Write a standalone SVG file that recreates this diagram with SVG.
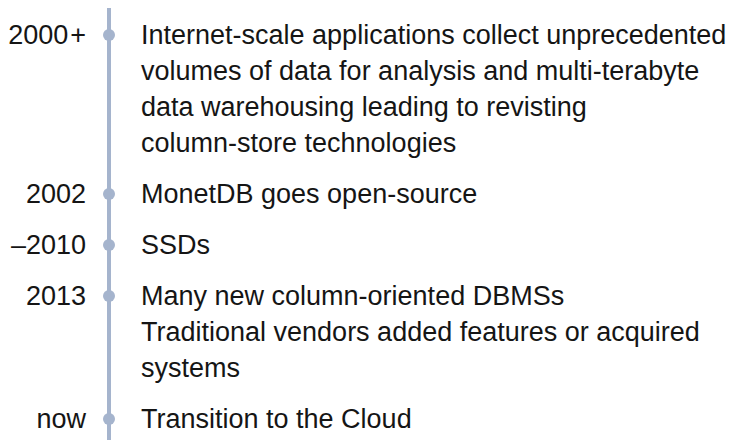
<svg xmlns="http://www.w3.org/2000/svg" width="730" height="440" viewBox="0 0 730 440">
  <style>
    .t { font-family: "Liberation Sans", Arial, sans-serif; font-size: 27px; fill: #151515; }
    .lab { font-family: "Liberation Sans", Arial, sans-serif; font-size: 27px; fill: #151515; text-anchor: end; }
    .dot { fill: #a5b4cd; }
  </style>
  <rect width="730" height="440" fill="#ffffff"/>
  <g id="connectors">
    <line x1="109" y1="8" x2="109" y2="440" stroke="#a5b4cd" stroke-width="4"/>
  </g>
  <g id="e2000">
    <circle class="dot" cx="109" cy="35" r="6"/>
    <text class="lab" x="86" y="44">2000<tspan dx="2">+</tspan></text>
    <text class="t" x="141" y="44">Internet-scale applications collect unprecedented</text>
    <text class="t" x="141" y="80">volumes of data for analysis and multi-terabyte</text>
    <text class="t" x="141" y="116">data warehousing leading to revisting</text>
    <text class="t" x="141" y="152">column-store technologies</text>
  </g>
  <g id="e2002">
    <circle class="dot" cx="109" cy="194" r="6"/>
    <text class="lab" x="86" y="203">2002</text>
    <text class="t" x="141" y="203">MonetDB goes open-source</text>
  </g>
  <g id="e2010">
    <circle class="dot" cx="109" cy="245" r="6"/>
    <text class="lab" x="86" y="254">–2010</text>
    <text class="t" x="141" y="254">SSDs</text>
  </g>
  <g id="e2013">
    <circle class="dot" cx="109" cy="296" r="6"/>
    <text class="lab" x="86" y="305">2013</text>
    <text class="t" x="141" y="305">Many new column-oriented DBMSs</text>
    <text class="t" x="141" y="341">Traditional vendors added features or acquired</text>
    <text class="t" x="141" y="377">systems</text>
  </g>
  <g id="enow">
    <circle class="dot" cx="109" cy="419" r="6"/>
    <text class="lab" x="86" y="428">now</text>
    <text class="t" x="141" y="428">Transition to the Cloud</text>
  </g>
</svg>
